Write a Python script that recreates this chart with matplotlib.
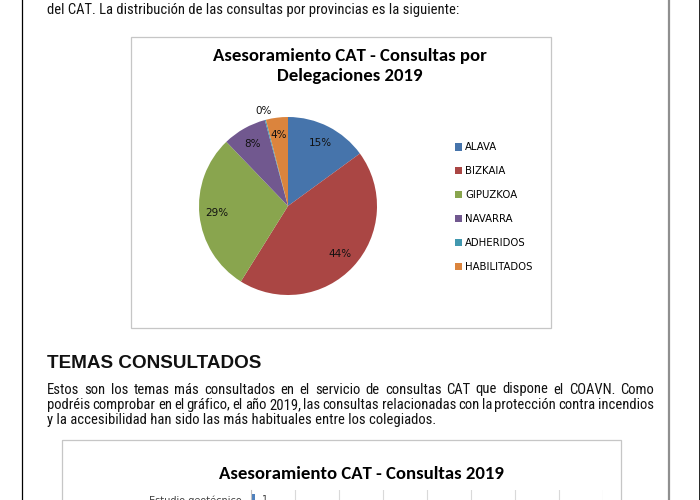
import os
import matplotlib
matplotlib.use('Agg')
import matplotlib.pyplot as plt
from matplotlib import font_manager
from matplotlib.font_manager import FontProperties
from matplotlib.patches import Rectangle
import numpy as np


def pick(fams):
    for f in fams:
        try:
            font_manager.findfont(FontProperties(family=f), fallback_to_default=False)
            return f
        except Exception:
            pass
    return 'DejaVu Sans'


def find_condensed():
    cands = [dict(family='Liberation Sans Narrow'), dict(family='Arial Narrow'),
             dict(family='Roboto Condensed'), dict(family='DejaVu Sans Condensed'),
             dict(family='DejaVu Sans', stretch='condensed'),
             dict(family='Noto Sans', stretch='condensed'),
             dict(family='Open Sans', stretch='condensed')]
    for c in cands:
        try:
            p = font_manager.findfont(FontProperties(**c), fallback_to_default=False)
        except Exception:
            continue
        name = os.path.basename(str(p)).lower()
        if 'narrow' in name or 'cond' in name:
            return str(p)
    return None


COND = find_condensed()
HEAD = pick(['Liberation Sans', 'DejaVu Sans'])
CHART = pick(['Carlito', 'Lato', 'Open Sans'])
SMALL = 'DejaVu Sans'

# ---------------- data ----------------
categories = ['ALAVA', 'BIZKAIA', 'GIPUZKOA', 'NAVARRA', 'ADHERIDOS', 'HABILITADOS']
values = [15, 44, 29, 8, 0.2, 4]
pie_title = 'Asesoramiento CAT - Consultas por\nDelegaciones 2019'

bar_categories = ['Estudio geotécnico']
bar_values = [1]
bar_title = 'Asesoramiento CAT - Consultas 2019'

intro_line = 'del CAT. La distribución de las consultas por provincias es la siguiente:'
heading = 'TEMAS CONSULTADOS'
para_lines = [
    'Estos son los temas más consultados en el servicio de consultas CAT que dispone el COAVN. Como',
    'podréis comprobar en el gráfico, el año 2019, las consultas relacionadas con la protección contra incendios',
    'y la accesibilidad han sido las más habituales entre los colegiados.',
]

pie_colors = ['#4674AB', '#AA4644', '#89A54E', '#71588F', '#4198AF', '#DB843D']

W, H = 700, 500
fig = plt.figure(figsize=(7, 5), dpi=100)
fig.patch.set_facecolor('white')


def fr(left, top, width, height):
    return [left / W, (H - top - height) / H, width / W, height / H]


page = fig.add_axes([0, 0, 1, 1])
page.set_xlim(0, W)
page.set_ylim(H, 0)
page.axis('off')

# page borders
page.plot([21.5, 21.5], [0, H], color='black', lw=0.9)
page.plot([668.8, 668.8], [0, H], color='#8f8f8f', lw=1.6)
page.plot([699.5, 699.5], [0, H], color='black', lw=1.2)

# chart frames
page.add_patch(Rectangle((130.5, 36.5), 420, 291, fill=False, ec='#c6c6c6', lw=0.9))
page.add_patch(Rectangle((61.5, 439.5), 559, 120, fill=False, ec='#c6c6c6', lw=0.9))


def body_fp(size):
    if COND:
        return FontProperties(fname=COND, size=size)
    return FontProperties(family='Liberation Sans', size=size)


# body texts: fit size so the intro line spans its measured width
fig.canvas.draw()
rend = fig.canvas.get_renderer()
fs0 = 10.3
intro = page.text(47, 14, intro_line, fontproperties=body_fp(fs0), va='baseline', ha='left', color='#111111')
wid = intro.get_window_extent(rend).width
fs = fs0 * 408.0 / wid
intro.set_fontproperties(body_fp(fs))

page.text(47, 364, heading, fontsize=13.6, family=HEAD, weight='bold', va='center', ha='left', color='#111111')

ys = [393.5, 409, 424]
for i, (line, y) in enumerate(zip(para_lines, ys)):
    words = line.split(' ')
    if i < 2:
        txts = [page.text(0, y, w, fontproperties=body_fp(fs), va='baseline', ha='left', color='#111111')
                for w in words]
        widths = [t.get_window_extent(rend).width for t in txts]
        gap = max(1.5, (654 - 47 - sum(widths)) / (len(words) - 1))
        x = 47
        for t, wd in zip(txts, widths):
            t.set_x(x)
            x += wd + gap
    else:
        page.text(47, y, line, fontproperties=body_fp(fs), va='baseline', ha='left', color='#111111')

# ---------------- pie chart ----------------
page.text(350, 66, pie_title, fontsize=13.5, family=CHART, weight='bold', ha='center', va='center',
          linespacing=1.25, color='black')

cx, cy, r = 288, 206, 89
pax = fig.add_axes(fr(cx - r, cy - r, 2 * r, 2 * r))
wedges, texts, autotexts = pax.pie(values, colors=pie_colors, startangle=90, counterclock=False,
                                   autopct='%.0f%%', pctdistance=0.8,
                                   wedgeprops=dict(linewidth=0),
                                   textprops=dict(fontsize=7.5, family=SMALL, color='#111111'))
pax.set_xlim(-1, 1)
pax.set_ylim(-1, 1)
# move the tiny slice label outside
w = wedges[4]
ang = np.deg2rad((w.theta1 + w.theta2) / 2)
autotexts[4].set_position((1.1 * np.cos(ang), 1.1 * np.sin(ang)))
autotexts[4].set_clip_on(False)

leg = page.legend(wedges, categories, loc='upper left',
                  bbox_to_anchor=(455 / W, (H - 142.5) / H), bbox_transform=fig.transFigure,
                  frameon=False, prop=dict(family=SMALL, size=7.3),
                  labelspacing=1.38, handlelength=0.7, handleheight=0.7, handletextpad=0.3,
                  borderpad=0, borderaxespad=0)

# ---------------- bar chart (top part) ----------------
page.text(361, 474, bar_title, fontsize=13.5, family=CHART, weight='bold', ha='center', va='center',
          color='black')

bax = fig.add_axes(fr(251, 490, 352, 200))
yy = np.arange(len(bar_categories))
bars = bax.barh(yy, bar_values, height=0.6, color='#4F81BD')
bax.set_xlim(0, 80)
bax.set_ylim(9.5, -0.5)
bax.set_xticks(np.arange(0, 81, 10))
bax.set_xticklabels([])
bax.set_yticks(yy)
bax.set_yticklabels(bar_categories, fontsize=7, family=SMALL, color='#404040')
bax.tick_params(axis='y', length=0, pad=7)
bax.tick_params(axis='x', length=0)
bax.grid(axis='x', color='#d9d9d9', lw=0.8)
bax.set_axisbelow(True)
for s in ['top', 'right', 'bottom']:
    bax.spines[s].set_visible(False)
bax.spines['left'].set_color('#bfbfbf')
bax.bar_label(bars, padding=5, fontsize=7, family=SMALL, color='#404040')

fig.savefig('out.png', dpi=100)
